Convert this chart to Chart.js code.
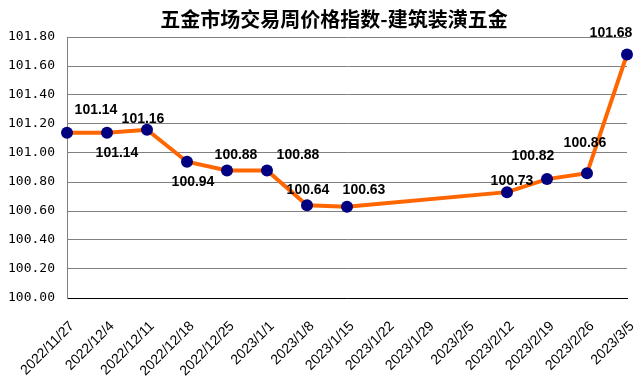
<!DOCTYPE html>
<html>
<head>
<meta charset="utf-8">
<script src="https://cdn.jsdelivr.net/npm/chart.js@4/dist/chart.umd.min.js"></script>
<style>
  body { margin: 0; background: #fff; }
</style>
</head>
<body>
<canvas id="priceChart" width="642" height="385"></canvas>
<script>
// chart data
var chartTitle = "五金市场交易周价格指数-建筑装潢五金";
var weeks = [
    "2022/11/27", "2022/12/4", "2022/12/11", "2022/12/18", "2022/12/25",
    "2023/1/1", "2023/1/8", "2023/1/15", "2023/1/22", "2023/1/29",
    "2023/2/5", "2023/2/12", "2023/2/19", "2023/2/26", "2023/3/5"
];
var priceIndex = [
    101.14, 101.14, 101.16, 100.94, 100.88,
    100.88, 100.64, 100.63, null, null,
    null, 100.73, 100.82, 100.86, 101.68
];
var yMin = 100.0;
var yMax = 101.8;
var yStep = 0.2;

// where each value label sits relative to its point (px)
var labelOffsets = [
    [29, -23], [10, 20], [-4, -11], [6, 20], [9, -15],
    [31, -15], [1, -15], [17, -17], null, null,
    null, [5, -11], [-14, -23], [-2, -30], [-16, -21]
];

var pointLabels = {
    id: "pointLabels",
    afterDatasetsDraw: function (chart) {
        var ctx = chart.ctx;
        var meta = chart.getDatasetMeta(0);
        ctx.save();
        ctx.font = "bold 14px 'Liberation Sans', Arial, sans-serif";
        ctx.fillStyle = "#000";
        ctx.textAlign = "center";
        ctx.textBaseline = "middle";
        meta.data.forEach(function (pt, i) {
            var v = priceIndex[i];
            if (v === null) return;
            var off = labelOffsets[i];
            ctx.fillText(v.toFixed(2), pt.x + off[0], pt.y + off[1]);
        });
        ctx.restore();
    }
};

var titleText = {
    id: "titleText",
    afterDraw: function (chart) {
        var ctx = chart.ctx;
        ctx.save();
        ctx.font = "bold 20px 'Noto Sans CJK SC', sans-serif";
        ctx.fillStyle = "#000";
        ctx.textAlign = "center";
        ctx.textBaseline = "middle";
        ctx.fillText(chartTitle, 334, 19);
        ctx.restore();
    }
};

var ctx = document.getElementById("priceChart").getContext("2d");
var priceChart = new Chart(ctx, {
    type: "line",
    data: {
        labels: weeks,
        datasets: [
            {
                data: priceIndex,
                borderColor: "#FF6600",
                borderWidth: 4,
                pointRadius: 6,
                pointBackgroundColor: "#000080",
                pointBorderWidth: 0,
                tension: 0,
                spanGaps: true,
                clip: false,
            },
        ],
    },
    options: {
        responsive: false,
        animation: false,
        layout: { padding: { top: 37, right: 15, left: 0, bottom: 0 } },
        plugins: {
            legend: { display: false },
            tooltip: { enabled: false },
            title: { display: false },
        },
        scales: {
            x: {
                offset: false,
                grid: { display: false, drawTicks: false },
                border: { display: true, color: "#000", width: 1 },
                ticks: {
                    autoSkip: false,
                    minRotation: 45,
                    maxRotation: 45,
                    padding: 20,
                    labelOffset: 5,
                    color: "#000",
                    font: { family: "'Liberation Sans', Arial, sans-serif", size: 14 },
                },
                afterFit: function (scale) {
                    scale.height = 87;
                    scale.paddingLeft = 0;
                    scale.paddingRight = 0;
                },
            },
            y: {
                min: yMin,
                max: yMax,
                grid: { color: "#808080", drawTicks: false },
                border: { display: true, color: "#808080" },
                ticks: {
                    stepSize: yStep,
                    padding: 12,
                    color: "#000",
                    font: { family: "'DejaVu Sans Mono', monospace", size: 13 },
                    callback: function (v) { return Number(v).toFixed(2); },
                },
                afterFit: function (scale) { scale.width = 67; },
            },
        },
    },
    plugins: [pointLabels, titleText],
});
</script>
</body>
</html>
